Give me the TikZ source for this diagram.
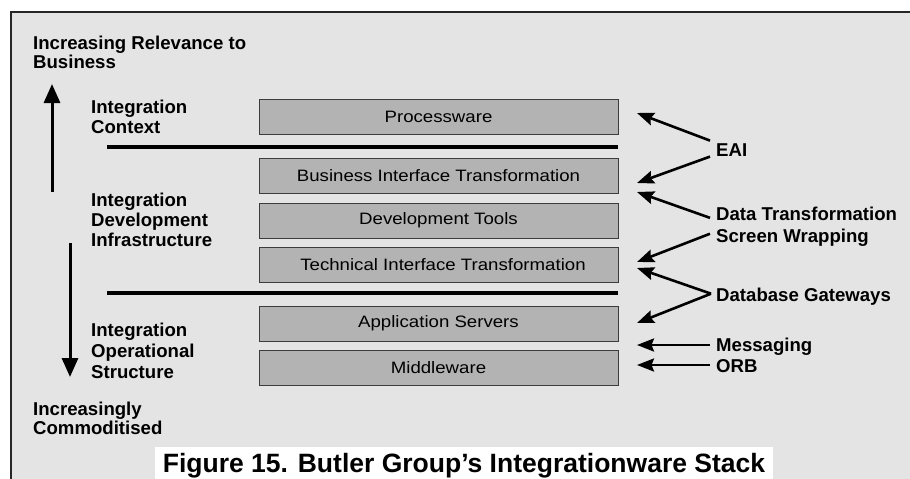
\documentclass[tikz,border=0pt]{standalone}
\usepackage{fontspec}
\setmainfont{Liberation Sans}
\newfontfamily\layerfont[FakeStretch=1.13]{Liberation Sans}
\usetikzlibrary{arrows.meta,calc}

\definecolor{panel}{HTML}{E4E4E4}
\definecolor{layerfill}{HTML}{B3B3B3}
\definecolor{layeredge}{HTML}{3C3C3C}

\begin{document}
\begin{tikzpicture}[x=1pt,y=-1pt,
  layer/.style={draw=layeredge, line width=0.8pt, fill=layerfill,
    minimum width=359pt, minimum height=35pt, inner sep=0pt,
    font=\layerfont\fontsize{16.5}{18}\selectfont},
  lbl/.style={font=\bfseries\fontsize{18.6}{20}\selectfont, align=left,
    inner sep=0pt, anchor=base west},
  bar/.style={line width=4.5pt},
  bigarrow/.style={line width=3pt, -{Triangle[length=19pt,width=16pt]}},
  ptr/.style={line width=2.6pt, -{Stealth[length=17pt,width=13pt,inset=2.5pt]}},
]
\useasboundingbox (0,0) rectangle (910,479);
\fill[white] (0,0) rectangle (910,479);
% panel (its right and lower edges run off the page)
\draw[fill=panel, draw=black!85, line width=1.3pt] (11,12) rectangle (920,490);

% the layer stack
\node[layer] (proc) at (438.5,116.5) {Processware};
\node[layer] (bit)  at (438.5,175.5) {Business Interface Transformation};
\node[layer] (dev)  at (438.5,220.5) {Development Tools};
\node[layer] (tit)  at (438.5,264.5) {\hspace*{9pt}Technical Interface Transformation};
\node[layer] (app)  at (438.5,323.5) {Application Servers};
\node[layer] (mw)   at (438.5,368)   {Middleware};

% divider bars
\coordinate (barA) at (107,147);
\coordinate (barB) at (107,293);
\draw[bar] (barA) -- (barA -| proc.east);
\draw[bar] (barB) -- (barB -| proc.east);

% left-hand labels (placed by the baseline of their last line)
\node[lbl, font=\bfseries\fontsize{18.6}{19}\selectfont] (relevance) at (33,68)
  {Increasing Relevance to\\Business};
\node[lbl] (context)   at (91,133) {Integration\\Context};
\node[lbl] (devinfra)  at (91,246) {Integration\\Development\\Infrastructure};
\node[lbl, font=\bfseries\fontsize{18.6}{21}\selectfont] (opstruct) at (91,378)
  {Integration\\Operational\\Structure};
\node[lbl, font=\bfseries\fontsize{18.6}{19}\selectfont] (commod) at (33,434)
  {Increasingly\\Commoditised};

% relevance / commoditisation arrows
\coordinate (upS) at (52,192);
\coordinate (upE) at (52,84);
\coordinate (dnS) at (70,243);
\coordinate (dnE) at (70,377);
\draw[bigarrow] (upS) -- (upE);
\draw[bigarrow] (dnS) -- (dnE);

% right-hand labels
\node[lbl] (eai)  at (716,156) {EAI};
\node[lbl] (data) at (716,220) {Data Transformation};
\node[lbl] (scr)  at (716,242) {Screen Wrapping};
\node[lbl] (dbg)  at (716,301) {Database Gateways};
\node[lbl] (msg)  at (716,351) {Messaging};
\node[lbl] (orb)  at (716,372) {ORB};

% arrow targets beside the stack
\coordinate (tProc) at (637,113);
\coordinate (tBitA) at (637,183);
\coordinate (tBitB) at (637,192);
\coordinate (tTitA) at (637,262);
\coordinate (tTitB) at (637,268);
\coordinate (tApp)  at (637,323);
\coordinate (tMsg)  at (637,345);
\coordinate (tOrb)  at (637,365);

\draw[ptr] ($(eai.west)+(-6,-9)$) -- (tProc);
\draw[ptr] ($(eai.west)+(-6,7)$)  -- (tBitA);
\draw[ptr] ($(data.west)+(-6,4.5)$) -- (tBitB);
\draw[ptr] ($(scr.west)+(-6,-3.5)$) -- (tTitA);
\draw[ptr] ($(dbg.west)+(-5,-2.5)$) -- (tTitB);
\draw[ptr] ($(dbg.west)+(-5,-2.5)$) -- (tApp);
\draw[ptr] (msg.west |- tMsg) ++(-6,0) -- (tMsg);
\draw[ptr] (orb.west |- tOrb) ++(-6,0) -- (tOrb);

% caption
\fill[white] (155,447) rectangle (773,490);
\node[font=\bfseries\fontsize{26.5}{30}\selectfont, inner sep=0pt, anchor=base]
  (caption) at (464,472) {Figure 15. Butler Group’s Integrationware Stack};
\end{tikzpicture}
\end{document}
